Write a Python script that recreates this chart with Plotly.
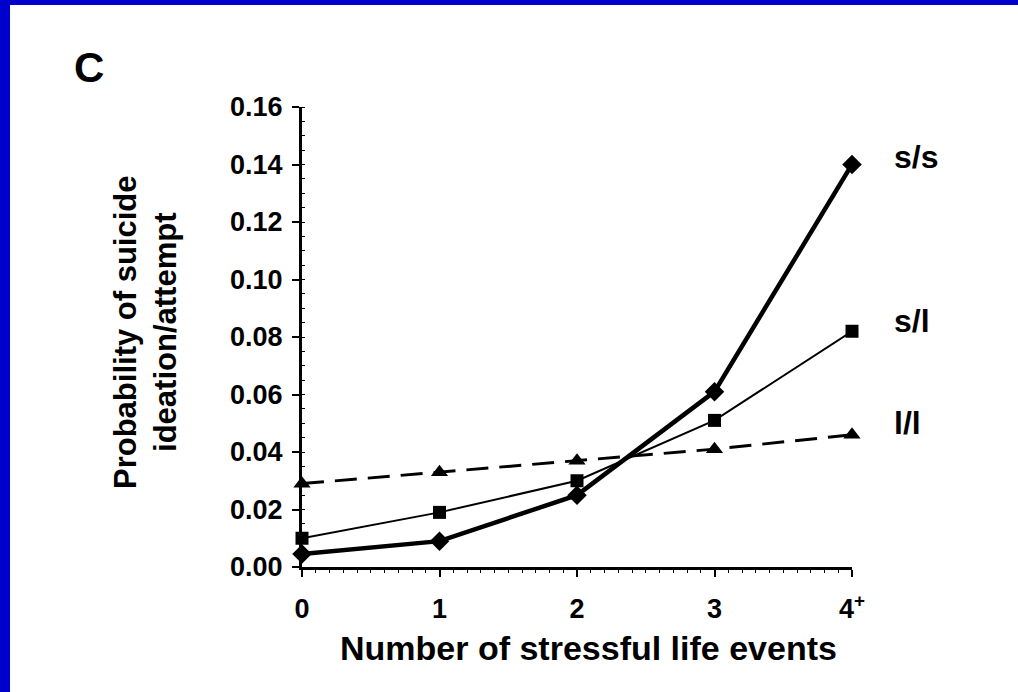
import plotly.graph_objects as go

# ---- data ----
events = [0, 1, 2, 3, 4]
tick_labels = ["0", "1", "2", "3", "4<sup>+</sup>"]
y_ticks = [0.00, 0.02, 0.04, 0.06, 0.08, 0.10, 0.12, 0.14, 0.16]

series_names = ["s/s", "s/l", "l/l"]
ss_values = [0.0045, 0.009, 0.025, 0.061, 0.140]
sl_values = [0.010, 0.019, 0.030, 0.051, 0.082]
ll_values = [0.029, 0.033, 0.037, 0.041, 0.046]

panel_label = "C"
x_title = "Number of stressful life events"
y_title = "Probability of suicide<br>ideation/attempt"

# ---- layout geometry (pixels) ----
W, H = 1018, 692
L, R, T, B = 302, 852, 107, 567


def px(x):
    return (x - L) / (R - L)


def py(y):
    return (B - y) / (B - T)


FONT = "Liberation Sans, Arial, sans-serif"
BLUE = "#0000CC"

fig = go.Figure()

fig.add_trace(go.Scatter(
    x=events, y=ll_values, name=series_names[2], mode="lines+markers",
    line=dict(color="black", width=3, dash="22px,11px"),
    marker=dict(symbol="triangle-up", size=15, color="black"),
    cliponaxis=False,
))
fig.add_trace(go.Scatter(
    x=events, y=sl_values, name=series_names[1], mode="lines+markers",
    line=dict(color="black", width=2),
    marker=dict(symbol="square", size=13, color="black"),
    cliponaxis=False,
))
fig.add_trace(go.Scatter(
    x=events, y=ss_values, name=series_names[0], mode="lines+markers",
    line=dict(color="black", width=4.5),
    marker=dict(symbol="diamond", size=15, color="black"),
    cliponaxis=False,
))

# series labels at right end
label_y = [ss_values[-1], sl_values[-1], ll_values[-1]]
label_shift = [8, 10, 12]
for name, yv, ys in zip(series_names, label_y, label_shift):
    fig.add_annotation(
        x=events[-1], y=yv, xref="x", yref="y", text=name, showarrow=False,
        xanchor="left", yanchor="middle", xshift=40, yshift=ys,
        font=dict(family=FONT, size=32, color="black", weight="bold"),
    )

# panel label
fig.add_annotation(
    x=px(72), y=py(68), xref="paper", yref="paper", text=panel_label,
    showarrow=False, xanchor="left", yanchor="middle",
    font=dict(family=FONT, size=42, color="black", weight="bold"),
)
# axis titles
fig.add_annotation(
    x=px(588), y=py(648), xref="paper", yref="paper", text=x_title,
    showarrow=False, xanchor="center", yanchor="middle",
    font=dict(family=FONT, size=34, color="black", weight="bold"),
)
fig.add_annotation(
    x=px(145), y=py(332), xref="paper", yref="paper", text=y_title,
    showarrow=False, xanchor="center", yanchor="middle", textangle=-90,
    font=dict(family=FONT, size=31, color="black", weight="bold"),
)

# blue frame on left and top
fig.add_shape(type="rect", xref="paper", yref="paper",
              x0=px(0), x1=px(10), y0=py(H), y1=py(0),
              fillcolor=BLUE, line=dict(width=0), layer="below")
fig.add_shape(type="rect", xref="paper", yref="paper",
              x0=px(0), x1=px(W), y0=py(5), y1=py(0),
              fillcolor=BLUE, line=dict(width=0), layer="below")

fig.update_layout(
    width=W, height=H,
    margin=dict(l=L, r=W - R, t=T, b=H - B, pad=0),
    paper_bgcolor="white", plot_bgcolor="white",
    showlegend=False,
    font=dict(family=FONT, color="black"),
    xaxis=dict(
        range=[0, 4], tickmode="array", tickvals=events, ticktext=tick_labels,
        showgrid=False, zeroline=False, showline=True, linecolor="black",
        linewidth=3, ticks="outside", ticklen=7, tickwidth=2, tickcolor="black",
        ticklabelstandoff=9,
        tickfont=dict(family=FONT, size=27, color="black", weight="bold"),
        minor=dict(ticks="outside", ticklen=3, tickwidth=1, tickcolor="black",
                   nticks=10, showgrid=False),
    ),
    yaxis=dict(
        range=[0, 0.16], tickmode="array", tickvals=y_ticks,
        ticktext=[f"{v:.2f}" for v in y_ticks],
        showgrid=False, zeroline=False, showline=True, linecolor="black",
        linewidth=3, ticks="outside", ticklen=7, tickwidth=2, tickcolor="black",
        ticklabelstandoff=4,
        tickfont=dict(family=FONT, size=27, color="black", weight="bold"),
        minor=dict(ticks="inside", ticklen=3, tickwidth=1, tickcolor="black",
                   dtick=0.005, showgrid=False),
    ),
)

fig.write_html("out.html")
